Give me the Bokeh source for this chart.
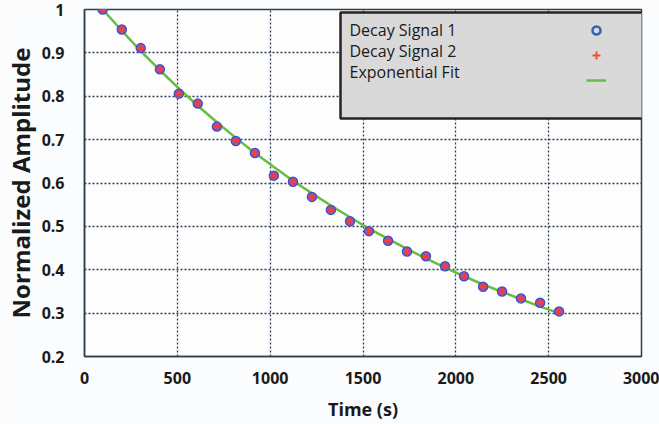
from bokeh.plotting import figure
from bokeh.models import (FixedTicker, Label, BoxAnnotation, Legend, LegendItem,
                          Range1d, ColumnDataSource, CDSView, IndexFilter)
from bokeh.embed import file_html
from bokeh.resources import INLINE

# ---- data ----
time_s = [98, 201, 303, 406, 508, 610, 713, 815, 918, 1020, 1123, 1225, 1327,
          1430, 1532, 1635, 1737, 1839, 1942, 2044, 2147, 2249, 2351, 2454, 2556]
decay_signal_1 = [1.000, 0.954, 0.911, 0.862, 0.806, 0.783, 0.730, 0.697, 0.669,
                  0.617, 0.603, 0.568, 0.538, 0.512, 0.489, 0.467, 0.442, 0.431,
                  0.408, 0.385, 0.361, 0.350, 0.334, 0.324, 0.304]
decay_signal_2 = [1.000, 0.954, 0.911, 0.862, 0.806, 0.783, 0.730, 0.697, 0.669,
                  0.617, 0.603, 0.568, 0.538, 0.512, 0.489, 0.467, 0.442, 0.431,
                  0.408, 0.385, 0.361, 0.350, 0.334, 0.324, 0.304]
exponential_fit = [1.000, 0.951, 0.904, 0.860, 0.818, 0.778, 0.740, 0.704, 0.669,
                   0.637, 0.605, 0.576, 0.548, 0.521, 0.495, 0.471, 0.448, 0.426,
                   0.405, 0.385, 0.366, 0.349, 0.332, 0.315, 0.300]
x_ticks = [0, 500, 1000, 1500, 2000, 2500, 3000]
y_ticks = [0.2, 0.3, 0.4, 0.5, 0.6, 0.7, 0.8, 0.9, 1.0]
y_tick_labels = ["0.2", "0.3", "0.4", "0.5", "0.6", "0.7", "0.8", "0.9", "1"]
legend_labels = ["Decay Signal 1", "Decay Signal 2", "Exponential Fit"]
x_title = "Time (s)"
y_title = "Normalized Amplitude"

FONT = "Open Sans"
TEXT = "#1a1a1a"
FRAME = "#2f3f4a"

src = ColumnDataSource(dict(t=time_s, s1=decay_signal_1, s2=decay_signal_2,
                            fit=exponential_fit))

p = figure(width=659, height=424, output_backend="svg", toolbar_location=None,
           x_range=Range1d(0, 3000), y_range=Range1d(0.2, 1.0),
           min_border_left=80, min_border_right=18, min_border_top=9,
           min_border_bottom=68)
p.background_fill_color = "#fdfdfe"
p.border_fill_color = "#fbfcfd"
p.outline_line_color = FRAME
p.outline_line_width = 1.5

p.xaxis.ticker = FixedTicker(ticks=x_ticks, minor_ticks=[])
p.yaxis.ticker = FixedTicker(ticks=y_ticks, minor_ticks=[])
p.xgrid.ticker = FixedTicker(ticks=x_ticks, minor_ticks=[])
p.ygrid.ticker = FixedTicker(ticks=y_ticks, minor_ticks=[])
p.yaxis.major_label_overrides = dict(zip(y_ticks, y_tick_labels))

p.grid.grid_line_color = "#2c3e50"
p.grid.grid_line_dash = "2 2"
p.grid.grid_line_width = 1.3

p.axis.major_tick_out = 0
p.axis.major_tick_in = 0
p.axis.minor_tick_out = 0
p.axis.minor_tick_in = 0
p.axis.axis_line_color = FRAME
p.axis.axis_line_width = 1.5
p.axis.major_label_text_font = FONT
p.axis.major_label_text_font_style = "bold"
p.axis.major_label_text_font_size = "16px"
p.axis.major_label_text_color = TEXT
p.xaxis.major_label_standoff = 15
p.yaxis.major_label_standoff = 20
p.axis.axis_label_text_font = FONT
p.axis.axis_label_text_font_style = "bold"
p.axis.axis_label_text_color = TEXT
p.xaxis.axis_label = x_title
p.yaxis.axis_label = y_title
p.xaxis.axis_label_text_font_size = "18px"
p.yaxis.axis_label_text_font_size = "24px"
p.xaxis.axis_label_standoff = 10
p.yaxis.axis_label_standoff = 2

fit_r = p.line("t", "fit", source=src, line_color="#66bd3f", line_width=2.5)

# legend-only symbol renderers: one tiny point hidden under the real markers
first_only = CDSView(filter=IndexFilter([0]))
leg_o = p.scatter("t", "s1", source=src, view=first_only, marker="circle",
                  size=1, fill_color="#d9d9d9", line_color="#2c64b4",
                  line_width=2.5)
leg_plus = p.scatter("t", "s2", source=src, view=first_only, marker="cross",
                     size=1, line_color="#f0502e", line_width=2)

c_r = p.scatter("t", "s1", source=src, marker="circle", size=9,
                fill_color="#8a55c0", fill_alpha=1.0,
                line_color="#3552c8", line_width=1.5)
x_r = p.scatter("t", "s2", source=src, marker="cross", size=8,
                line_color="#ff3b2f", line_width=2)

# legend box
p.add_layout(BoxAnnotation(left=256, right=561, top=344, bottom=238,
                           left_units="screen", right_units="screen",
                           top_units="screen", bottom_units="screen",
                           fill_color="#d9d9d9", fill_alpha=1.0,
                           line_color="#2a2222", line_width=2.5,
                           line_alpha=1.0))
for i, lab in enumerate(legend_labels):
    p.add_layout(Label(x=265, y=327 - 21 * i, x_units="screen", y_units="screen",
                       text=lab, text_baseline="middle", text_font=FONT,
                       text_font_size="16px", text_color=TEXT))

legend = Legend(items=[LegendItem(label=" ", renderers=[leg_o]),
                       LegendItem(label=" ", renderers=[leg_plus]),
                       LegendItem(label=" ", renderers=[fit_r])],
                location="top_right", margin=10, padding=0, spacing=3,
                glyph_width=20, glyph_height=22, label_width=25,
                label_height=22, label_standoff=0,
                background_fill_alpha=0, border_line_alpha=0)
p.add_layout(legend)

open("out.html", "w").write(file_html(p, INLINE))
